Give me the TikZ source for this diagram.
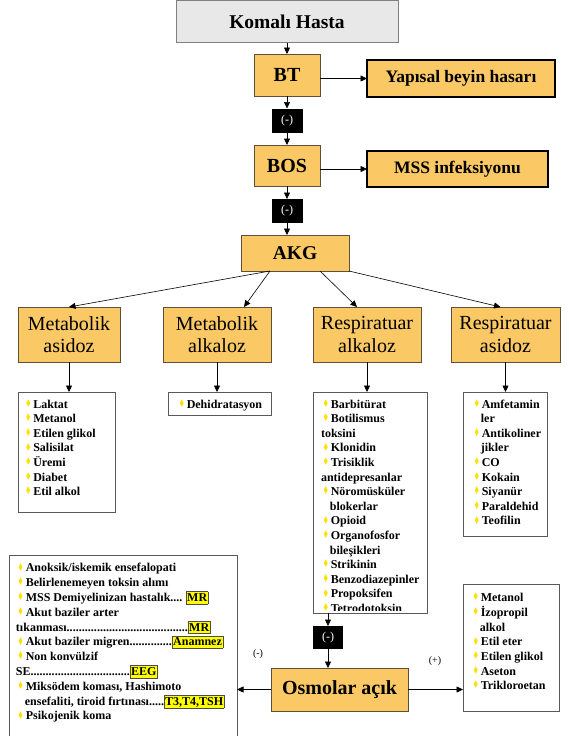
\documentclass[tikz,border=0pt]{standalone}
\usepackage{fontspec}
\usepackage{graphicx}
\setmainfont{Liberation Serif}
\newfontfamily\djv{DejaVu Sans}
\usetikzlibrary{arrows.meta}
\definecolor{orng}{RGB}{250,200,100}
\definecolor{obord}{RGB}{95,80,60}
\definecolor{byel}{RGB}{255,225,0}
\definecolor{hly}{RGB}{255,255,0}
\definecolor{kgray}{RGB}{232,232,232}
\newcommand\bul{\hspace*{1.5pt}\raisebox{0.8pt}{\djv\color{byel}\fontsize{9}{9}\selectfont\scalebox{0.8}[1.2]{♦}}\hspace{1.8pt}}
\newcommand\ind{\hspace*{8.9pt}}
\newcommand\hlt[1]{{\setlength\fboxsep{0.8pt}\setlength\fboxrule{0.4pt}\fcolorbox{black!70}{hly}{\rule[-1.5pt]{0pt}{10.5pt}#1}}}
\newcommand\dotsto[2]{\makebox[#1][l]{#2\xleaders\hbox{.}\hfill}}
\begin{document}
\begin{tikzpicture}[x=1pt,y=-1pt,
  every node/.style={inner sep=0pt, outer sep=0pt},
  obox/.style={draw=obord, line width=0.6pt, fill=orng, align=center},
  rowbox/.style={obox, minimum height=55pt, font=\fontsize{20}{22.5}\selectfont},
  tbox/.style={draw=black, line width=2.2pt, fill=orng, font=\bfseries\fontsize{17.5}{20}\selectfont},
  neg/.style={fill=black, text=white, font=\fontsize{12}{13}\selectfont, minimum width=31pt, minimum height=24pt},
  lbox/.style={draw=black!65, line width=0.6pt, fill=white},
  ltext/.style={anchor=north west, align=left, font=\bfseries\fontsize{12}{14.6}\selectfont},
  lbl/.style={font=\fontsize{10}{11}\selectfont},
  arr/.style={-{Triangle[length=6.5pt,width=6pt]}, line width=0.6pt},
]
\useasboundingbox (0,0) rectangle (569,736);
\fill[white] (0,0) rectangle (569,736);

% top chain
\node[draw=black!50, fill=kgray, line width=0.6pt, minimum width=222pt, minimum height=42pt, font=\bfseries\fontsize{19.5}{22}\selectfont] (kh) at (287,21.5) {Komalı Hasta};
\node[obox, minimum width=66pt, minimum height=42pt, font=\bfseries\fontsize{20}{22}\selectfont] (bt) at (287,75) {BT};
\node[tbox, minimum width=188pt, minimum height=37pt] (yb) at (461,78.5) {Yapısal beyin hasarı};
\node[neg] (n1) at (287,120.5) {(-)};
\node[obox, minimum width=66pt, minimum height=41pt, font=\bfseries\fontsize{20}{22}\selectfont] (bos) at (287,165.5) {BOS};
\node[tbox, minimum width=181pt, minimum height=36pt] (mss) at (457.5,169) {MSS infeksiyonu};
\node[neg] (n2) at (287,211) {(-)};
\node[obox, minimum width=108pt, minimum height=36pt, font=\bfseries\fontsize{19.5}{22}\selectfont] (akg) at (295,253) {AKG};

\draw[arr] (kh.south) -- (bt.north);
\draw[arr] (bt.east |- yb.west) -- (yb.west);
\draw[arr] (bt.south) -- (n1.north);
\draw[arr] (n1.south) -- (bos.north);
\draw[arr] (bos.east |- mss.west) -- (mss.west);
\draw[arr] (bos.south) -- (n2.north);
\draw[arr] (n2.south) -- (n2.south |- akg.north);

% row of four
\node[rowbox, minimum width=102pt] (ma) at (69,334.5) {Metabolik\\asidoz};
\node[rowbox, minimum width=108pt] (mk) at (217,334.5) {Metabolik\\alkaloz};
\node[rowbox, minimum width=108pt] (ra) at (367,334.5) {Respiratuar\\alkaloz};
\node[rowbox, minimum width=109pt] (rs) at (505.5,334.5) {Respiratuar\\asidoz};

\draw[arr] ([xshift=-25pt]akg.south) -- (ma.north);
\draw[arr] ([xshift=-25pt]akg.south) -- ([xshift=27pt]mk.north);
\draw[arr] ([xshift=25pt]akg.south) -- ([xshift=-10pt]ra.north);
\draw[arr] (akg.south east) -- ([xshift=-5pt]rs.north);

% list boxes
\node[lbox, minimum width=97pt, minimum height=120pt] (l1) at (66.5,452) {};
\node[lbox, minimum width=103pt, minimum height=23pt] (l2) at (219.5,403.5) {};
\node[lbox, minimum width=114pt, minimum height=221pt] (l3) at (370,502.5) {};
\node[lbox, minimum width=84pt, minimum height=144pt] (l4) at (505,464) {};
\node[lbox, minimum width=96pt, minimum height=127pt] (l5) at (511,647.5) {};
\node[lbox, minimum width=228pt, minimum height=190pt] (l6) at (123,650) {};

\draw[arr] (ma.south) -- (ma.south |- l1.north);
\draw[arr] (mk.south) -- (mk.south |- l2.north);
\draw[arr] (ra.south) -- (ra.south |- l3.north);
\draw[arr] (rs.south) -- (rs.south |- l4.north);

\node[ltext] (t1) at (23.5,397.8) {\strut\bul Laktat\\ \bul Metanol\\ \bul Etilen glikol\\ \bul Salisilat\\ \bul Üremi\\ \bul Diabet\\ \bul Etil alkol};
\node[ltext] (t2) at (177,397.8) {\strut\bul Dehidratasyon};
\begin{scope}
\clip (l3.north west) rectangle ([yshift=2.5pt]l3.south east);
\node[ltext] (t3) at (321,397.8) {\strut\bul Barbitürat\\ \bul Botilismus\\ toksini\\ \bul Klonidin\\ \bul Trisiklik\\ antidepresanlar\\ \bul Nöromüsküler\\ \ind blokerlar\\ \bul Opioid\\ \bul Organofosfor\\ \ind bileşikleri\\ \bul Strikinin\\ \bul Benzodiazepinler\\ \bul Propoksifen\\ \bul Tetrodotoksin};
\end{scope}
\node[ltext] (t4) at (472,397.8) {\strut\bul Amfetamin\\ \ind ler\\ \bul Antikoliner\\ \ind jikler\\ \bul CO\\ \bul Kokain\\ \bul Siyanür\\ \bul Paraldehid\\ \bul Teofilin};
\node[ltext] (t5) at (471,590.8) {\strut\bul Metanol\\ \bul İzopropil\\ \ind alkol\\ \bul Etil eter\\ \bul Etilen glikol\\ \bul Aseton\\ \bul Trikloroetan};
\node[ltext, font=\bfseries\fontsize{12}{14.8}\selectfont] (t6) at (16,561.6) {\strut\bul Anoksik/iskemik ensefalopati\\
\bul Belirlenemeyen toksin alımı\\
\makebox[170pt][l]{\bul MSS Demiyelinizan hastalık....}\hlt{MR}\\
\bul Akut baziler arter\\
\dotsto{172pt}{tıkanması}\hlt{MR}\\
\dotsto{156pt}{\bul Akut baziler migren}\hlt{Anamnez}\\
\bul Non konvülzif\\
\dotsto{114pt}{SE}\hlt{EEG}\\
\bul Miksödem koması, Hashimoto\\
\ind ensefaliti, tiroid fırtınası.....\hlt{T3,T4,TSH}\\
\bul Psikojenik koma};

% bottom
\node[neg, minimum width=30pt, minimum height=23pt] (n3) at (328,637.5) {(-)};
\node[obox, minimum width=137pt, minimum height=43pt, font=\bfseries\fontsize{20}{22}\selectfont] (osm) at (339.5,689.5) {Osmolar açık};
\draw[arr] (n3.north |- l3.south) -- (n3.north);
\draw[arr] (n3.south) -- (n3.south |- osm.north);
\draw[arr] (osm.west) -- (osm.west -| l6.east);
\draw[arr] (osm.east) -- (osm.east -| l5.west);
\node[lbl] (neglbl) at (258,654) {(-)};
\node[lbl] (poslbl) at (435,661) {(+)};
\end{tikzpicture}
\end{document}
